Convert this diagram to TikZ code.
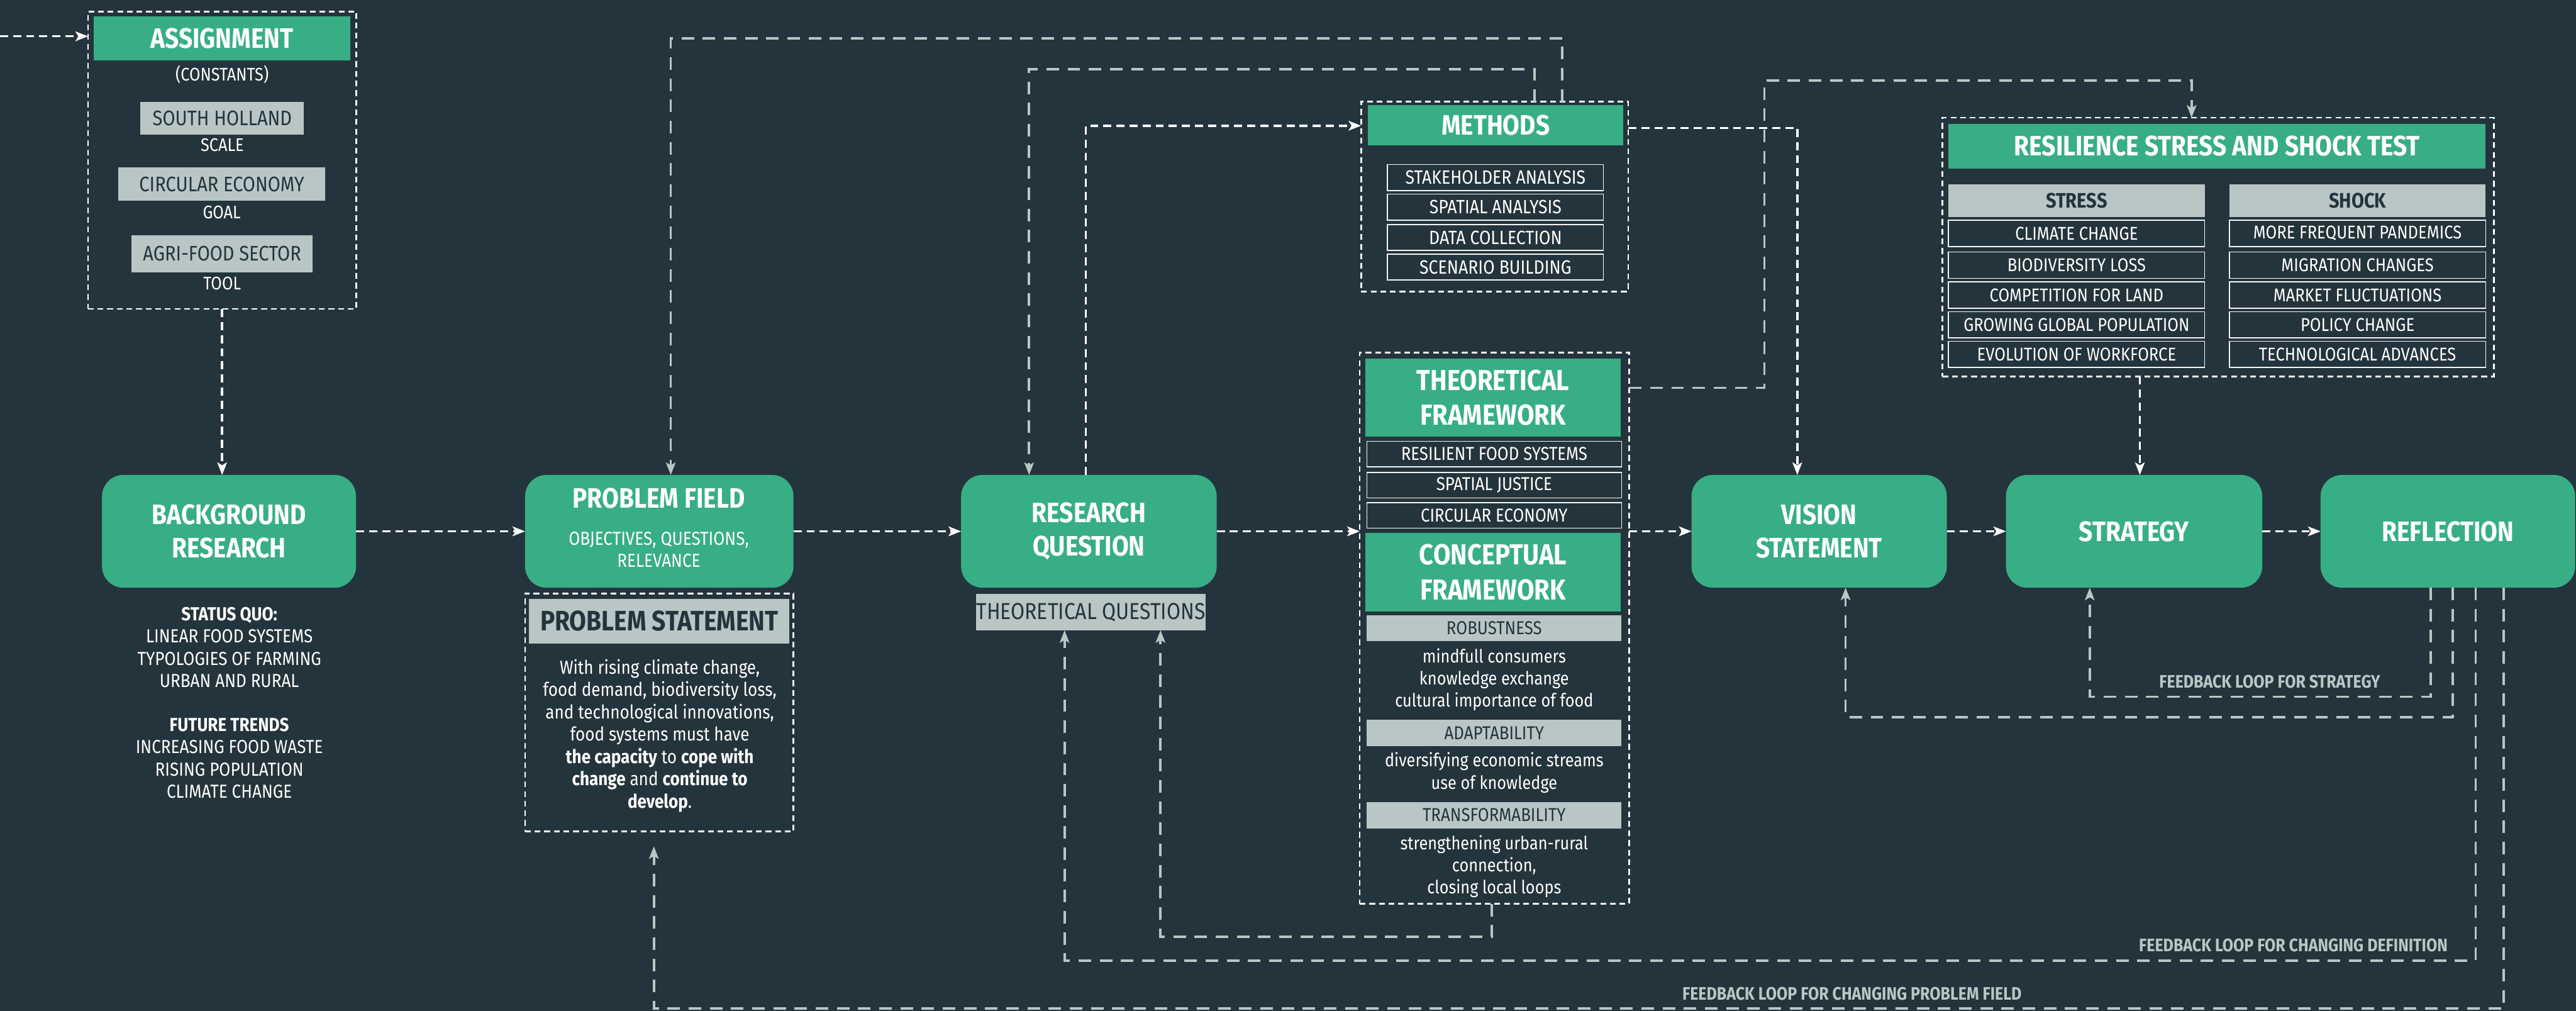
\documentclass[tikz,border=0pt]{standalone}
\usepackage{fontspec}
\setmainfont{Fira Sans}[FakeStretch=0.87]
\usetikzlibrary{arrows.meta}
\definecolor{bgc}{HTML}{24343C}
\definecolor{grn}{HTML}{38AE85}
\definecolor{lgr}{HTML}{B8C6C5}

\tikzset{
  wh/.style 2 args={minimum width=#1*0.03cm, minimum height=#2*0.03cm},
  mainbox/.style={fill=grn, rounded corners=0.39cm, inner sep=0pt, outer sep=0pt},
  greenbar/.style={fill=grn, inner sep=0pt, outer sep=0pt, text=white},
  graybar/.style={fill=lgr, inner sep=0pt, outer sep=0pt, text=bgc},
  itembox/.style={draw=white!85!lgr, line width=0.5pt, inner sep=0pt, outer sep=0pt, text=white},
  frame/.style={draw=white, dash pattern=on 3pt off 2pt, line width=0.9pt, inner sep=0pt, outer sep=0pt},
  tip/.style={-{Stealth[length=6.5pt,width=5pt,inset=1.5pt]}},
  flow/.style={draw=white, line width=1.1pt, dash pattern=on 4.2pt off 2.6pt, tip},
  fback/.style={draw=lgr, line width=1.2pt, dash pattern=on 6.5pt off 4.5pt, tip},
  ttl/.style={font=\bfseries\fontsize{14.6}{17.5}\selectfont, text=white, align=center},
  body/.style={font=\fontsize{9.8}{11.5}\selectfont, text=white, align=center},
  lab/.style={font=\fontsize{9.5}{11}\selectfont, text=white},
  gtxt/.style={font=\fontsize{10.9}{13}\selectfont},
  mitem/.style={itembox, wh={131.5}{15.8}, font=\fontsize{10}{11}\selectfont},
  fitem/.style={itembox, wh={155}{15.6}, font=\fontsize{9.7}{11}\selectfont},
  fsub/.style={graybar, wh={155}{15.6}, font=\fontsize{9.7}{11}\selectfont},
  flines/.style={font=\fontsize{9.5}{11.5}\selectfont, text=white, align=center},
  ritem/.style={itembox, wh={156}{16}, font=\fontsize{9.6}{11}\selectfont},
  fbl/.style={font=\bfseries\fontsize{9.4}{11}\selectfont, text=lgr},
}

\begin{document}
\begin{tikzpicture}[x=0.03cm, y=-0.03cm]
\fill[bgc] (0,0) rectangle (1568,615);
\useasboundingbox (0,0) rectangle (1568,615);

% ---------- assignment ----------
\node[frame, wh={163.3}{181}] (asg) at (135.2,97.5) {};
\node[greenbar, wh={156}{27}, ttl] (asghd) at (135.1,23.4) {ASSIGNMENT};
\node[lab] (cons) at (135.2,45.4) {(CONSTANTS)};
\node[graybar, wh={99.5}{20}, gtxt] (sh) at (135.3,72) {SOUTH HOLLAND};
\node[lab] (shl) at (135.3,88.3) {SCALE};
\node[graybar, wh={126}{20}, gtxt] (ce) at (135,112) {CIRCULAR ECONOMY};
\node[lab] (cel) at (135,129.3) {GOAL};
\node[graybar, wh={110.4}{22.6}, gtxt] (af) at (135.2,154.3) {AGRI-FOOD SECTOR};
\node[lab] (afl) at (135.2,172.3) {TOOL};

% ---------- background research ----------
\node[mainbox, wh={154.6}{68.6}, ttl] (br) at (139.4,323.3) {BACKGROUND\\RESEARCH};
\node[body] (sq) at (139.6,427.6) {\textbf{STATUS QUO:}\\LINEAR FOOD SYSTEMS\\TYPOLOGIES OF FARMING\\URBAN AND RURAL\\[11.5pt]\textbf{FUTURE TRENDS}\\INCREASING FOOD WASTE\\RISING POPULATION\\CLIMATE CHANGE};

% ---------- problem field ----------
\node[mainbox, wh={163.4}{68.6}] (pf) at (401.3,323.3) {};
\node[ttl] (pft) at (401,303.3) {PROBLEM FIELD};
\node[body, font=\fontsize{9.8}{11.4}\selectfont] (pfs) at (401,334.3) {OBJECTIVES, QUESTIONS,\\RELEVANCE};
\node[frame, wh={163.4}{144.7}] (ps) at (401.3,433.6) {};
\node[graybar, wh={158.5}{27.3}, font=\bfseries\fontsize{14.6}{17}\selectfont] (pshd) at (401.3,378) {PROBLEM STATEMENT};
\node[body, font=\fontsize{9.8}{11.6}\selectfont] (pst) at (401.6,447.7) {With rising climate change,\\food demand, biodiversity loss,\\and technological innovations,\\food systems must have\\\textbf{the capacity} to \textbf{cope with}\\\textbf{change} and \textbf{continue to}\\\textbf{develop}.};

% ---------- research question ----------
\node[mainbox, wh={155.6}{68.6}, ttl] (rq) at (662.8,323.3) {RESEARCH\\QUESTION};
\node[graybar, wh={140}{22}, font=\fontsize{12}{14}\selectfont] (tq) at (664,372.5) {THEORETICAL QUESTIONS};

% ---------- methods ----------
\node[frame, wh={162.6}{115.5}] (mth) at (909.8,119.6) {};
\node[greenbar, wh={155.6}{24.3}, ttl] (mthhd) at (910.4,76.2) {METHODS};
\node[mitem] (m1) at (910.3,108) {STAKEHOLDER ANALYSIS};
\node[mitem] (m2) at (910.3,126) {SPATIAL ANALYSIS};
\node[mitem] (m3) at (910.3,144.5) {DATA COLLECTION};
\node[mitem] (m4) at (910.3,162.5) {SCENARIO BUILDING};

% ---------- frameworks ----------
\node[frame, wh={163.9}{335.4}] (fw) at (909.6,382.3) {};
\node[greenbar, wh={155.6}{47.7}, font=\bfseries\fontsize{15}{18}\selectfont, align=center] (tf) at (908.8,241.9) {THEORETICAL\\FRAMEWORK};
\node[fitem] (t1) at (909.5,276.3) {RESILIENT FOOD SYSTEMS};
\node[fitem] (t2) at (909.5,295.2) {SPATIAL JUSTICE};
\node[fitem] (t3) at (909.5,313.6) {CIRCULAR ECONOMY};
\node[greenbar, wh={155.6}{47.6}, font=\bfseries\fontsize{15}{18}\selectfont, align=center] (cf) at (908.8,348.2) {CONCEPTUAL\\FRAMEWORK};
\node[fsub] (rob) at (909.5,382.3) {ROBUSTNESS};
\node[flines] (robl) at (909.5,413.5) {mindfull consumers\\knowledge exchange\\cultural importance of food};
\node[fsub, wh={155}{16}] (ada) at (909.5,446) {ADAPTABILITY};
\node[flines] (adal) at (909.5,470.2) {diversifying economic streams\\use of knowledge};
\node[fsub, wh={155}{16}] (tra) at (909.5,496) {TRANSFORMABILITY};
\node[flines] (tral) at (909.5,527.3) {strengthening urban-rural\\connection,\\closing local loops};

% ---------- vision, strategy, reflection ----------
\node[mainbox, wh={155.4}{68.6}, ttl] (vs) at (1107.3,323.3) {VISION\\STATEMENT};
\node[mainbox, wh={156}{68.6}, ttl] (st) at (1299,323.3) {STRATEGY};
\node[mainbox, wh={155}{68.6}, ttl] (rf) at (1490,323.3) {REFLECTION};

% ---------- resilience test ----------
\node[frame, wh={335.6}{157.4}] (res) at (1350.1,150.3) {};
\node[greenbar, wh={327}{27.2}, ttl] (reshd) at (1349.5,88.9) {RESILIENCE STRESS AND SHOCK TEST};
\node[graybar, wh={156}{20}, font=\bfseries\fontsize{10.9}{13}\selectfont] (sth) at (1264,122) {STRESS};
\node[graybar, wh={156}{20}, font=\bfseries\fontsize{10.9}{13}\selectfont] (shh) at (1435,122) {SHOCK};
\node[ritem] (s1) at (1264,142) {CLIMATE CHANGE};
\node[ritem] (s2) at (1264,161.4) {BIODIVERSITY LOSS};
\node[ritem] (s3) at (1264,179.5) {COMPETITION FOR LAND};
\node[ritem] (s4) at (1264,197.6) {GROWING GLOBAL POPULATION};
\node[ritem] (s5) at (1264,215.6) {EVOLUTION OF WORKFORCE};
\node[ritem] (k1) at (1435,142) {MORE FREQUENT PANDEMICS};
\node[ritem] (k2) at (1435,161.4) {MIGRATION CHANGES};
\node[ritem] (k3) at (1435,179.5) {MARKET FLUCTUATIONS};
\node[ritem] (k4) at (1435,197.6) {POLICY CHANGE};
\node[ritem] (k5) at (1435,215.6) {TECHNOLOGICAL ADVANCES};

% ---------- bend points ----------
\coordinate (in) at (0,22.1);
\coordinate (b1) at (661,76.5);
\coordinate (b2) at (951,23.3);
\coordinate (b3) at (408.3,23.3);
\coordinate (b4) at (934,42);
\coordinate (b5) at (626.4,42);
\coordinate (b6) at (1094,77.8);
\coordinate (b7) at (1074,236);
\coordinate (b8) at (1074,49);
\coordinate (b9) at (1334,49);
\coordinate (b10) at (1302.5,229);
\coordinate (c1) at (1479.6,423.9);
\coordinate (c2) at (1272,423.9);
\coordinate (c3) at (1492.9,436.3);
\coordinate (c4) at (1123.4,436.3);
\coordinate (c5) at (1506.9,584.5);
\coordinate (c6) at (648,584.5);
\coordinate (c7) at (1524,613.6);
\coordinate (c8) at (398,613.6);
\coordinate (c9) at (908,570);
\coordinate (c10) at (706.4,570);

% ---------- main flow ----------
\draw[flow] (in) -- (in -| asg.west);
\draw[flow] (asg.south) -- (asg.south |- br.north);
\draw[flow] (br.east) -- (pf.west);
\draw[flow] (pf.east) -- (rq.west);
\draw[flow] (rq.east) -- (rq.east -| fw.west);
\draw[flow] (fw.east |- vs.west) -- (vs.west);
\draw[flow] (vs.east) -- (st.west);
\draw[flow] (st.east) -- (rf.west);
\draw[flow] (rq.north -| b1) -- (b1) -- (mth.west |- b1);
\draw[flow] (mth.east |- b6) -- (b6) -- (vs.north -| b6);
\draw[flow] (res.south -| b10) -- (st.north -| b10);

% ---------- feedback connectors ----------
\draw[fback] (mth.north -| b2) -- (b2) -- (b3) -- (pf.north -| b3);
\draw[fback] (mth.north -| b4) -- (b4) -- (b5) -- (rq.north -| b5);
\draw[fback] (fw.east |- b7) -- (b7) -- (b8) -- (b9) -- (res.north -| b9);
\draw[fback] (rf.south -| c1) -- (c1) -- (c2) -- (st.south -| c2);
\draw[fback] (rf.south -| c3) -- (c3) -- (c4) -- (vs.south -| c4);
\draw[fback] (rf.south -| c5) -- (c5) -- (c6) -- (tq.south -| c6);
\draw[fback, shorten >=0.27cm] (rf.south -| c7) -- (c7) -- (c8) -- (ps.south -| c8);
\draw[fback] (fw.south -| c9) -- (c9) -- (c10) -- (tq.south -| c10);

% ---------- loop labels ----------
\node[fbl, anchor=east] (lb1) at (1453,414.6) {FEEDBACK LOOP FOR STRATEGY};
\node[fbl, anchor=east] (lb2) at (1494,575) {FEEDBACK LOOP FOR CHANGING DEFINITION};
\node[fbl] (lb3) at (1127.3,604.7) {FEEDBACK LOOP FOR CHANGING PROBLEM FIELD};
\end{tikzpicture}
\end{document}
